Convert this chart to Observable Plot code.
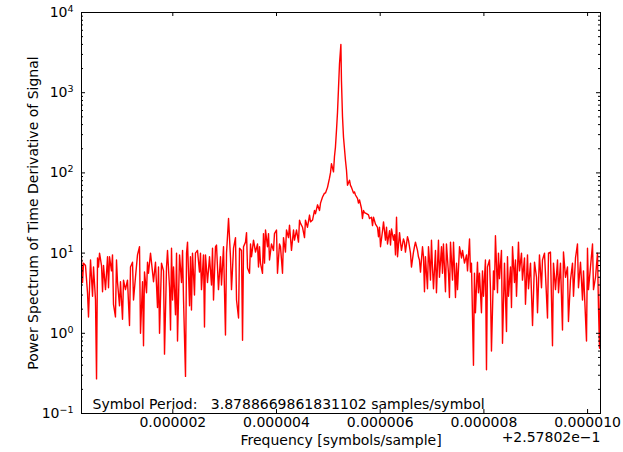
<!DOCTYPE html>
<html><head><meta charset="utf-8">
<script src="https://cdn.jsdelivr.net/npm/d3@7"></script>
<script src="https://cdn.jsdelivr.net/npm/@observablehq/plot@0.6"></script>
<style>
body{margin:0;background:#fff;}
svg text{white-space:pre;}
</style></head><body>
<script>
// Frequency offsets from 2.57802e-1, in units of 1e-6 symbols/sample
const freqOffsetMicro = [
0.239,0.259,0.278,0.316,0.355,0.374,0.413,0.452,0.471,0.509,0.529,0.548,0.567,0.587,0.625,0.645,0.664,0.702,0.741,0.760,
0.780,0.817,0.837,0.856,0.894,0.914,0.933,0.972,0.991,1.030,1.049,1.087,1.126,1.165,1.184,1.223,1.242,1.280,1.319,1.358,
1.377,1.416,1.435,1.454,1.493,1.512,1.531,1.570,1.609,1.628,1.666,1.705,1.724,1.744,1.782,1.821,1.840,1.879,1.898,1.937,
1.956,1.975,1.995,2.014,2.052,2.072,2.091,2.130,2.168,2.188,2.207,2.245,2.265,2.284,2.323,2.341,2.360,2.380,2.418,2.437,
2.476,2.515,2.534,2.553,2.592,2.611,2.630,2.669,2.708,2.746,2.766,2.785,2.823,2.843,2.881,2.920,2.939,2.978,3.016,3.036,
3.075,3.113,3.132,3.171,3.209,3.229,3.268,3.287,3.325,3.345,3.364,3.402,3.422,3.441,3.480,3.499,3.518,3.557,3.595,3.634,
3.653,3.673,3.691,3.730,3.749,3.769,3.788,3.826,3.846,3.865,3.903,3.942,3.961,4.000,4.019,4.058,4.077,4.116,4.135,4.173,
4.193,4.231,4.251,4.289,4.328,4.347,4.386,4.424,4.444,4.463,4.502,4.540,4.559,4.598,4.637,4.656,4.695,4.733,4.752,4.791,
4.830,4.849,4.888,4.926,4.945,4.984,5.022,5.041,5.060,5.099,5.118,5.137,5.157,5.176,5.195,5.215,5.242,5.253,5.273,5.292,
5.330,5.350,5.369,5.408,5.427,5.446,5.485,5.504,5.523,5.562,5.581,5.601,5.639,5.658,5.678,5.697,5.736,5.774,5.794,5.832,
5.852,5.871,5.909,5.948,5.967,5.987,6.006,6.045,6.064,6.102,6.122,6.141,6.180,6.199,6.218,6.257,6.276,6.295,6.315,6.334,
6.373,6.391,6.410,6.449,6.468,6.487,6.526,6.545,6.584,6.603,6.642,6.661,6.680,6.719,6.738,6.757,6.777,6.816,6.835,6.854,
6.873,6.912,6.931,6.950,6.970,6.989,7.008,7.028,7.066,7.085,7.124,7.143,7.182,7.201,7.220,7.259,7.278,7.317,7.336,7.356,
7.395,7.414,7.452,7.472,7.491,7.530,7.568,7.588,7.626,7.665,7.684,7.723,7.741,7.760,7.799,7.818,7.837,7.876,7.895,7.915,
7.953,7.973,7.992,8.030,8.050,8.069,8.108,8.127,8.146,8.185,8.204,8.223,8.262,8.281,8.301,8.339,8.359,8.397,8.436,8.455,
8.474,8.513,8.532,8.552,8.590,8.609,8.629,8.667,8.687,8.725,8.744,8.783,8.802,8.841,8.860,8.899,8.938,8.976,9.015,9.034,
9.072,9.111,9.130,9.169,9.227,9.246,9.284,9.323,9.342,9.381,9.420,9.439,9.477,9.516,9.535,9.574,9.612,9.631,9.670,9.709,
9.728,9.767,9.805,9.824,9.863,9.902,9.921,9.979,9.998,10.017,10.056,10.095,10.114,10.153,10.191,10.210,10.230,10.249
];
const power = [
8.5,4.3,7.5,7,3.2,1.6,8.2,2.9,6.7,2.6,0.27,8.7,6.7,10,7,3.3,7,3.5,9,3.7,
9,6,9.5,2.3,1.6,8.2,4.4,2.2,4.4,1.5,4.6,3.5,4.6,1.25,6.7,7.7,2.6,5,9.5,12,
1.0,4.4,0.7,5.8,3.2,7.7,5.6,10,5.8,4.4,7.7,2.1,6.7,1.0,7.5,6,0.55,6.7,10.8,3.7,
1.1,11.5,2.6,6.7,1.7,10,0.8,9.5,4.3,10.8,2.6,0.29,10,13.7,2.2,9,1.95,10,3,10,
10.8,5.8,10,3.5,9.5,1.2,9.5,4.3,9,4,11.5,2.6,12,12.6,3.5,9,4,12,0.95,10,
27,8.7,3.5,11.5,15.6,2.6,1.55,11.5,10.8,0.82,12,13.7,18,6.5,5.6,13,9,14.5,10.3,13,
6.7,12,7.5,5.6,17.5,7.5,19.4,12,17.5,8.2,13,10.8,17.5,19.4,5.6,13,12,5.6,15.6,10.3,
19.4,15.6,22.3,10.8,19.4,14.5,19.4,13.7,25.8,23.5,21,15.6,25.8,21,29.8,24.5,25.8,34,31,40,
34,42,50,56,56,66,86,100,130,103,160,210,340,560,1100,2300,4000,1400,500,280,
144,108,70,81,70,66,56,58,53,48,42,46,36,27,34,32,31,30,27,28,
22,28,23,21,16,21,12,19,24.5,14.5,21,13,19,12.6,20,14.5,17,9.5,28,9,
18,13.7,10.8,15,13.7,10.3,16,14.5,10,6.7,10.3,12,13.7,10.8,9,8.2,5.8,12,9,3.3,
9,3.6,12,8.2,4.6,14.5,6.7,3.6,10.8,3.2,14.5,5,12,5.6,13,3.3,13,5.6,2.8,13.7,
4.6,13.7,2.8,7.5,3.5,12,8.7,10.8,7.5,9.5,6,15,5.8,7.5,0.4,5.6,1.8,7.7,3.2,5.6,
1.8,6,2.9,8.2,0.35,6.7,8.2,3.5,0.6,6,3.5,16.5,3.2,10,4.8,10.8,0.75,7.5,1.05,9,
2.9,6.7,2.1,12,4.3,8.2,2.9,13.7,6,10,4.6,8.7,2.3,9.5,3.6,7.5,1.25,7.7,5,1.8,
9.5,3.7,8.2,10,1.55,10,10.3,0.7,7.5,3.5,8.2,3.2,7.5,1.1,10.3,5,6.7,1.4,4.6,7.5,
2.9,8.7,13,3.7,7.7,2.6,6,0.8,11.5,3.5,6.7,13,3.5,5,10,2.1,0.65,5
];
const xTicks = [2, 4, 6, 8, 10];
const yMajor = [0.1, 1, 10, 100, 1000, 10000];
const yMinor = [0.2,0.3,0.4,0.5,0.6,0.7,0.8,0.9, 2,3,4,5,6,7,8,9, 20,30,40,50,60,70,80,90,
  200,300,400,500,600,700,800,900, 2000,3000,4000,5000,6000,7000,8000,9000];
const xTitle = "Frequency [symbols/sample]";
const xOffsetLabel = "+2.57802e\u22121";
const yTitle = "Power Spectrum of Time Derivative of Signal";
const note = "Symbol Period:   3.8788669861831102 samples/symbol";

const data = freqOffsetMicro.map((f, i) => ({f, p: power[i]}));
const W = 623, H = 452, mL = 81, mR = 23, mT = 12, mB = 39;
const pw = W - mL - mR, ph = H - mT - mB;
const fs = 14;

const chart = Plot.plot({
  width: W, height: H,
  marginLeft: mL, marginRight: mR, marginTop: mT, marginBottom: mB,
  style: {fontFamily: "DejaVu Sans", fontSize: fs + "px", color: "black", background: "white"},
  x: {type: "linear", domain: [0.239, 10.249], label: null},
  y: {type: "log", domain: [0.1, 10000], label: null},
  marks: [
    Plot.line(data, {x: "f", y: "p", stroke: "#ff0000", strokeWidth: 1.4, clip: true}),
    Plot.ruleX(xTicks, {x: d => d, insetTop: ph - 4, stroke: "black"}),
    Plot.ruleX(xTicks, {x: d => d, insetBottom: ph - 4, stroke: "black"}),
    Plot.ruleY(yMajor, {y: d => d, insetRight: pw - 4, stroke: "black"}),
    Plot.ruleY(yMajor, {y: d => d, insetLeft: pw - 4, stroke: "black"}),
    Plot.ruleY(yMinor, {y: d => d, insetRight: pw - 2, stroke: "black"}),
    Plot.ruleY(yMinor, {y: d => d, insetLeft: pw - 2, stroke: "black"}),
    Plot.frame({stroke: "black"}),
    Plot.axisX({ticks: xTicks, tickSize: 0, tickPadding: 4, tickFormat: d => (d / 1e6).toFixed(6), fontSize: fs, label: null}),
    Plot.axisY({ticks: yMajor, tickSize: 0, tickPadding: 8, tickFormat: d => String(Math.round(Math.log10(d))), fontSize: fs, label: null}),
    Plot.text([xTitle], {text: d => d, frameAnchor: "bottom", textAnchor: "middle", dy: 31, lineAnchor: "bottom", fontSize: fs}),
    Plot.text([xOffsetLabel], {text: d => d, frameAnchor: "bottom-right", textAnchor: "end", dy: 28, lineAnchor: "bottom", fontSize: fs}),
    Plot.text([note], {text: d => d, frameAnchor: "bottom-left", textAnchor: "start", dx: 11, dy: -5, lineAnchor: "bottom", fontSize: fs}),
    Plot.text([yTitle], {text: d => d, frameAnchor: "left", textAnchor: "middle", rotate: -90, dx: -43.5, lineAnchor: "bottom", fontSize: fs})
  ]
});

d3.select(chart).selectAll('g[aria-label="y-axis tick label"] text').each(function () {
  const t = d3.select(this);
  const e = t.text();
  t.text("");
  t.append("tspan").text("10");
  t.append("tspan").attr("dy", "-0.55em").attr("font-size", "9.5px").text(e.replace("-", "\u2212"));
});

document.body.appendChild(chart);
</script>
</body></html>
